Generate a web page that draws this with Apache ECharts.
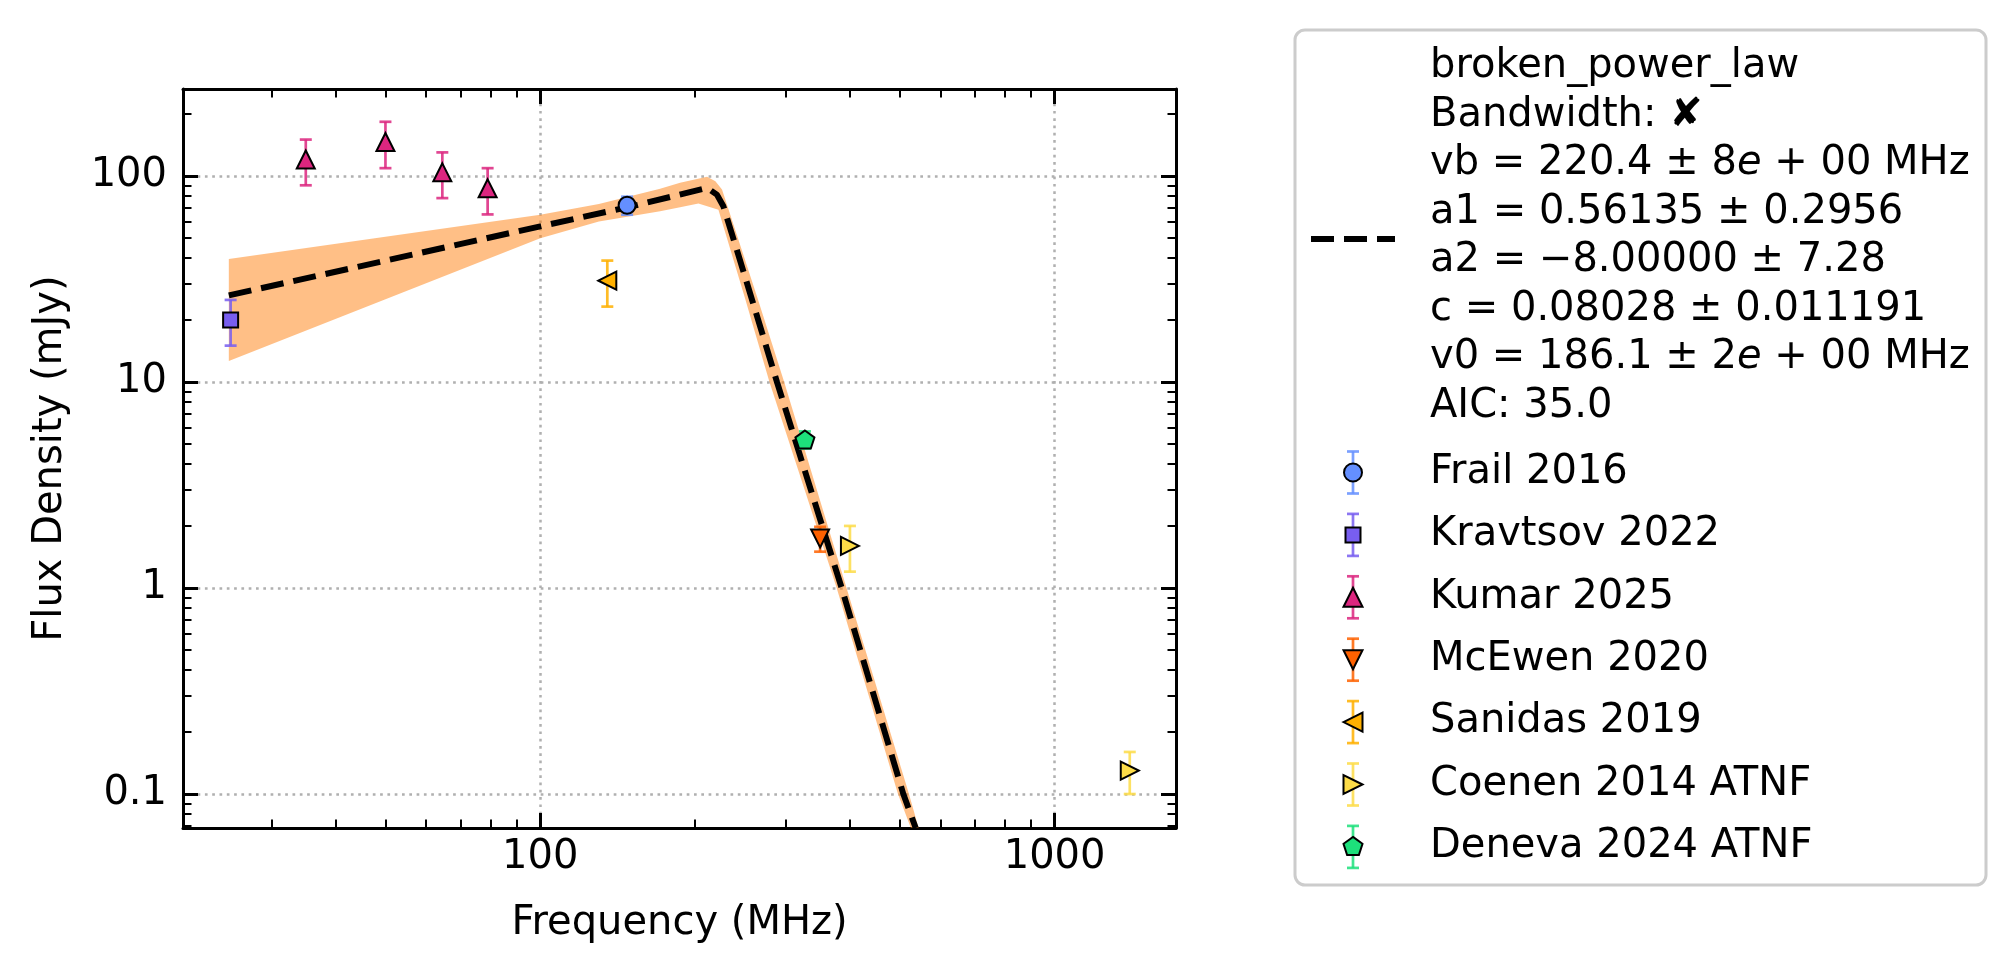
<!DOCTYPE html>
<html>
<head>
<meta charset="utf-8">
<title>broken power law fit</title>
<script src="https://cdn.jsdelivr.net/npm/echarts@6/dist/echarts.min.js"></script>
<style>
  html, body { margin: 0; padding: 0; background: #fff; }
  #chart { width: 2016px; height: 973px; }
</style>
</head>
<body>
<div id="chart"></div>
<script>
const FONT = 'DejaVu Sans';

// axis ranges and tick values
const xRange = [20.2, 1722];
const yRange = [0.0684, 264];
const xMajorTicks = [100, 1000];
const xMinorTicks = [30, 40, 50, 60, 70, 80, 90, 200, 300, 400, 500, 600, 700, 800, 900];
const yMajorTicks = [0.1, 1, 10, 100];
const yMinorTicks = [0.07, 0.08, 0.09, 0.2, 0.3, 0.4, 0.5, 0.6, 0.7, 0.8, 0.9,
  2, 3, 4, 5, 6, 7, 8, 9, 20, 30, 40, 50, 60, 70, 80, 90, 200];

// measurements: frequency (MHz), flux density (mJy), error (mJy)
const frailFreq = [147.5], frailFlux = [72], frailErr = [7.2];
const kravtsovFreq = [25], kravtsovFlux = [20], kravtsovErr = [5];
const kumarFreq = [35, 50, 64.5, 79], kumarFlux = [120, 146, 104, 87], kumarErr = [30, 37, 26, 22];
const mcewenFreq = [350], mcewenFlux = [1.74], mcewenErr = [0.24];
const sanidasFreq = [135], sanidasFlux = [31], sanidasErr = [7.8];
const coenenFreq = [400, 1400], coenenFlux = [1.6, 0.13], coenenErr = [0.4, 0.03];
const denevaFreq = [327], denevaFlux = [5.25], denevaErr = [0.5];

// fitted model line
const fitFreq = [24.8, 100, 150, 211, 220.5, 227, 241, 258, 288.5, 385.5, 508, 537];
const fitFlux = [26.3, 56.9, 71, 87.4, 81.1, 71.2, 43.9, 25.1, 10, 1, 0.1, 0.0684];

// uncertainty band edges
const bandUpperFreq = [24.8, 100, 130, 171, 187, 211, 219, 225.6, 265, 298, 394, 521, 544];
const bandUpperFlux = [39.5, 64.8, 73, 86.5, 92.5, 98.9, 94.2, 85.8, 25.1, 10, 1, 0.1, 0.0684];
const bandLowerFreq = [24.8, 100, 130, 171, 187, 203, 222, 250.5, 279, 377, 496, 525.5];
const bandLowerFlux = [12.65, 49.8, 60, 67.3, 70.5, 73.4, 68.5, 25.1, 10, 1, 0.1, 0.0684];

const fitLabel = [
  'broken_power_law',
  'Bandwidth: \u2718',
  'vb = 220.4 \u00b1 8{i|e} + 00 MHz',
  'a1 = 0.56135 \u00b1 0.2956',
  'a2 = \u22128.00000 \u00b1 7.28',
  'c = 0.08028 \u00b1 0.011191',
  'v0 = 186.1 \u00b1 2{i|e} + 00 MHz',
  'AIC: 35.0'
];

const PENTAGON = 'path://M0,-1L0.951,-0.309L0.588,0.809L-0.588,0.809L-0.951,-0.309Z';

const groups = [
  { name: 'Frail 2016', freq: frailFreq, flux: frailFlux, err: frailErr, color: '#648FFF', symbol: 'circle', size: 17, rotate: 0, shape: 'circle' },
  { name: 'Kravtsov 2022', freq: kravtsovFreq, flux: kravtsovFlux, err: kravtsovErr, color: '#785EF0', symbol: 'rect', size: 15, rotate: 0, shape: 'square' },
  { name: 'Kumar 2025', freq: kumarFreq, flux: kumarFlux, err: kumarErr, color: '#DC267F', symbol: 'triangle', size: 18, rotate: 0, shape: 'up' },
  { name: 'McEwen 2020', freq: mcewenFreq, flux: mcewenFlux, err: mcewenErr, color: '#FE6100', symbol: 'triangle', size: 18, rotate: 180, shape: 'down' },
  { name: 'Sanidas 2019', freq: sanidasFreq, flux: sanidasFlux, err: sanidasErr, color: '#FFB000', symbol: 'triangle', size: 18, rotate: 90, shape: 'left' },
  { name: 'Coenen 2014 ATNF', freq: coenenFreq, flux: coenenFlux, err: coenenErr, color: '#FDDC48', symbol: 'triangle', size: 18, rotate: -90, shape: 'right' },
  { name: 'Deneva 2024 ATNF', freq: denevaFreq, flux: denevaFlux, err: denevaErr, color: '#1DE07B', symbol: PENTAGON, size: 19, rotate: 0, shape: 'pentagon' }
];

const fmt = v => String(+(+v).toPrecision(6));

function majorX(pos, labels) {
  return {
    type: 'log', logBase: 10, min: xRange[0], max: xRange[1], position: pos,
    axisLine: { show: true, onZero: false, lineStyle: { color: '#000', width: 3 } },
    axisTick: { show: true, inside: true, length: 15, customValues: xMajorTicks, lineStyle: { color: '#000', width: 3 } },
    axisLabel: { show: labels, customValues: xMajorTicks, margin: 10, fontFamily: FONT, fontSize: 40, color: '#000', formatter: fmt },
    splitLine: { show: labels, lineStyle: { color: '#b0b0b0', width: 2.5, type: [2.7, 4.6] } },
    minorTick: { show: false }, minorSplitLine: { show: false }
  };
}
function minorX(pos) {
  return {
    type: 'log', logBase: 10, min: xRange[0], max: xRange[1], position: pos,
    axisLine: { show: false, onZero: false },
    axisTick: { show: true, inside: true, length: 8.5, customValues: xMinorTicks, lineStyle: { color: '#000', width: 2 } },
    axisLabel: { show: false }, splitLine: { show: false }
  };
}
function majorY(pos, labels) {
  return {
    type: 'log', logBase: 10, min: yRange[0], max: yRange[1], position: pos,
    axisLine: { show: true, onZero: false, lineStyle: { color: '#000', width: 3 } },
    axisTick: { show: true, inside: true, length: 15, customValues: yMajorTicks, lineStyle: { color: '#000', width: 3 } },
    axisLabel: { show: labels, customValues: yMajorTicks, margin: 16, fontFamily: FONT, fontSize: 40, color: '#000', formatter: fmt },
    splitLine: { show: labels, lineStyle: { color: '#b0b0b0', width: 2.5, type: [2.7, 4.6] } },
    minorTick: { show: false }, minorSplitLine: { show: false }
  };
}
function minorY(pos) {
  return {
    type: 'log', logBase: 10, min: yRange[0], max: yRange[1], position: pos,
    axisLine: { show: false, onZero: false },
    axisTick: { show: true, inside: true, length: 8.5, customValues: yMinorTicks, lineStyle: { color: '#000', width: 2 } },
    axisLabel: { show: false }, splitLine: { show: false }
  };
}

const xBottom = majorX('bottom', true);
xBottom.name = 'Frequency (MHz)';
xBottom.nameLocation = 'middle';
xBottom.nameGap = 76;
xBottom.nameTextStyle = { fontFamily: FONT, fontSize: 40, color: '#000' };
const yLeft = majorY('left', true);
yLeft.name = 'Flux Density (mJy)';
yLeft.nameLocation = 'middle';
yLeft.nameGap = 112;
yLeft.nameTextStyle = { fontFamily: FONT, fontSize: 40, color: '#000' };

function errorBars(g) {
  return {
    type: 'custom', silent: true, z: 4,
    data: g.freq.map((f, i) => [f, g.flux[i] - g.err[i], g.flux[i] + g.err[i]]),
    encode: { x: 0, y: [1, 2] },
    renderItem: function (params, api) {
      const lo = api.coord([api.value(0), api.value(1)]);
      const hi = api.coord([api.value(0), api.value(2)]);
      const cap = 6;
      const st = { stroke: g.color, lineWidth: 2.7, opacity: 0.85 };
      return {
        type: 'group',
        children: [
          { type: 'line', shape: { x1: lo[0], y1: lo[1], x2: hi[0], y2: hi[1] }, style: st },
          { type: 'line', shape: { x1: lo[0] - cap, y1: lo[1], x2: lo[0] + cap, y2: lo[1] }, style: st },
          { type: 'line', shape: { x1: hi[0] - cap, y1: hi[1], x2: hi[0] + cap, y2: hi[1] }, style: st }
        ]
      };
    }
  };
}
function markers(g) {
  return {
    type: 'scatter', name: g.name, silent: true, z: 5,
    data: g.freq.map((f, i) => [f, g.flux[i]]),
    symbol: g.symbol, symbolSize: g.size, symbolRotate: g.rotate, symbolKeepAspect: true,
    itemStyle: { color: g.color, borderColor: '#000', borderWidth: 2, opacity: 1 }
  };
}

const series = [
  {
    type: 'custom', silent: true, z: 1,
    data: [[bandUpperFreq[0], bandUpperFlux[0]]],
    renderItem: function (params, api) {
      const pts = [];
      bandUpperFreq.forEach((f, i) => pts.push(api.coord([f, bandUpperFlux[i]])));
      for (let i = bandLowerFreq.length - 1; i >= 0; i--) {
        pts.push(api.coord([bandLowerFreq[i], bandLowerFlux[i]]));
      }
      const cs = params.coordSys;
      return {
        type: 'polygon', shape: { points: pts },
        style: { fill: 'rgba(255,127,14,0.5)' },
        clipPath: { type: 'rect', shape: { x: cs.x, y: cs.y, width: cs.width, height: cs.height } }
      };
    }
  },
  {
    type: 'line', silent: true, z: 3, clip: true, showSymbol: false, symbol: 'none',
    data: fitFreq.map((f, i) => [f, fitFlux[i]]),
    lineStyle: { color: '#000', width: 6, type: [23, 10] }
  }
];
groups.forEach(g => series.push(errorBars(g)));
groups.forEach(g => series.push(markers(g)));

// legend drawn as graphic elements to match the error-bar handles
function legendShape(kind, cx, cy, color) {
  const style = { fill: color, stroke: '#000', lineWidth: 2 };
  const h = 9.5;
  if (kind === 'circle') return { type: 'circle', shape: { cx: cx, cy: cy, r: 9 }, style: style, z: 12 };
  if (kind === 'square') return { type: 'rect', shape: { x: cx - 7.5, y: cy - 7.5, width: 15, height: 15 }, style: style, z: 12 };
  let pts;
  if (kind === 'up') pts = [[cx, cy - h], [cx + h, cy + h], [cx - h, cy + h]];
  else if (kind === 'down') pts = [[cx - h, cy - h], [cx + h, cy - h], [cx, cy + h]];
  else if (kind === 'left') pts = [[cx - h, cy], [cx + h, cy - h], [cx + h, cy + h]];
  else if (kind === 'right') pts = [[cx + h, cy], [cx - h, cy - h], [cx - h, cy + h]];
  else {
    pts = [];
    for (let k = 0; k < 5; k++) {
      const a = -Math.PI / 2 + k * 2 * Math.PI / 5;
      pts.push([cx + 10 * Math.cos(a), cy + 10 * Math.sin(a)]);
    }
  }
  return { type: 'polygon', shape: { points: pts }, style: style, z: 12 };
}

const legendX = 1295, legendY = 30, legendW = 691, legendH = 855;
const handleX = 1353, textX = 1430;
const graphic = [
  { type: 'rect', shape: { x: legendX, y: legendY, width: legendW, height: legendH, r: 10 },
    style: { fill: 'rgba(255,255,255,0.8)', stroke: '#cccccc', lineWidth: 3 }, z: 10 },
  { type: 'line', shape: { x1: 1311, y1: 239, x2: 1395, y2: 239 },
    style: { stroke: '#000', lineWidth: 6, lineDash: [23, 10] }, z: 11 },
  { type: 'text', x: textX, y: 42.5, z: 11,
    style: {
      text: fitLabel.join('\n'), fontFamily: FONT, fontSize: 40, fill: '#000',
      lineHeight: 48.5, verticalAlign: 'top', align: 'left',
      rich: { i: { fontFamily: FONT, fontSize: 40, fontStyle: 'italic', lineHeight: 48.5, fill: '#000' } }
    } }
];
groups.forEach((g, k) => {
  const cy = 472.5 + k * 62.4;
  const bar = { stroke: g.color, lineWidth: 2.7, opacity: 0.85 };
  graphic.push({ type: 'line', shape: { x1: handleX, y1: cy - 21, x2: handleX, y2: cy + 21 }, style: bar, z: 11 });
  graphic.push({ type: 'line', shape: { x1: handleX - 6, y1: cy - 21, x2: handleX + 6, y2: cy - 21 }, style: bar, z: 11 });
  graphic.push({ type: 'line', shape: { x1: handleX - 6, y1: cy + 21, x2: handleX + 6, y2: cy + 21 }, style: bar, z: 11 });
  graphic.push(legendShape(g.shape, handleX, cy, g.color));
  graphic.push({ type: 'text', x: textX, y: cy, z: 11,
    style: { text: g.name, fontFamily: FONT, fontSize: 40, fill: '#000', verticalAlign: 'middle', align: 'left' } });
});

const chart = echarts.init(document.getElementById('chart'));
chart.setOption({
  animation: false,
  backgroundColor: '#fff',
  textStyle: { fontFamily: FONT },
  grid: { left: 183, top: 89, width: 993, height: 739, containLabel: false, outerBoundsMode: 'none' },
  xAxis: [xBottom, majorX('top', false), minorX('bottom'), minorX('top')],
  yAxis: [yLeft, majorY('right', false), minorY('left'), minorY('right')],
  series: series,
  graphic: graphic
});
</script>
</body>
</html>
